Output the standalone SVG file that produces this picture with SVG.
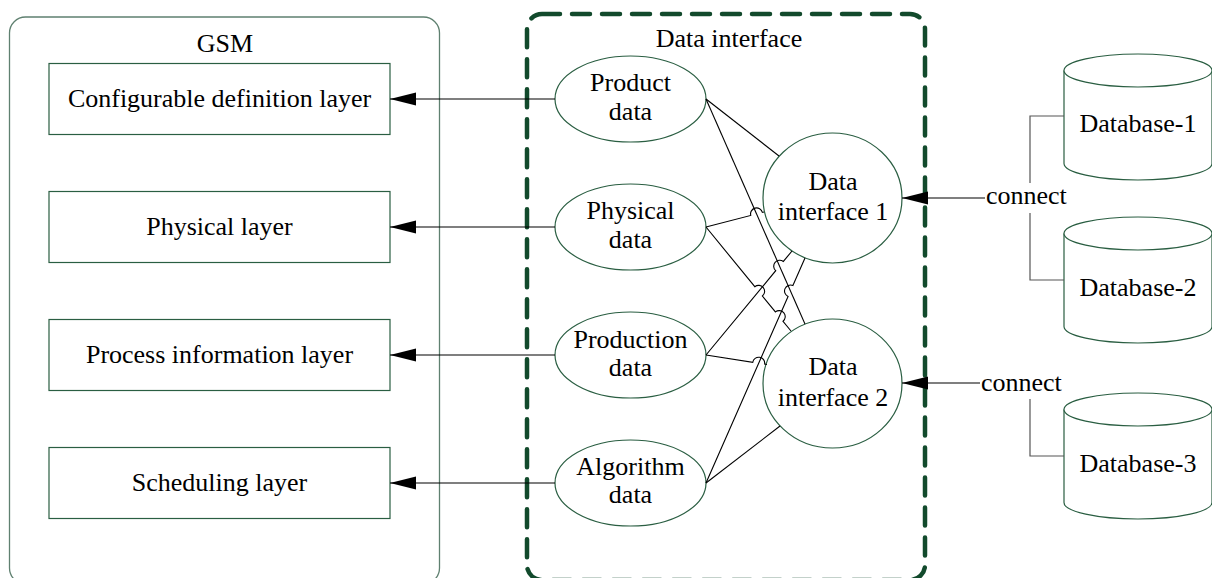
<svg xmlns="http://www.w3.org/2000/svg" width="1212" height="578" viewBox="0 0 1212 578">
<style>
  .t { font-family: "Liberation Serif", "Times New Roman", serif; font-size: 26px; fill: #000; }
  .c { text-anchor: middle; }
  .shape { fill: #fff; stroke: #2a5e42; stroke-width: 1.2; }
  .frame { fill: none; stroke: #5f8070; stroke-width: 1.3; }
  .dash { fill: none; stroke: #124a2c; stroke-width: 4.5; stroke-dasharray: 18 12; stroke-linecap: round; }
  .ln { fill: none; stroke: #000; stroke-width: 1.1; }
  .arr { fill: none; stroke: #000; stroke-width: 1.1; marker-end: url(#ah); }
  .br { fill: none; stroke: #555; stroke-width: 1.2; }
</style>
<defs>
  <marker id="ah" markerUnits="userSpaceOnUse" markerWidth="27" markerHeight="14" refX="26" refY="6.5" orient="auto">
    <path d="M0,0 L26,6.5 L0,13 Z" fill="#000"/>
  </marker>
</defs>
<rect width="1212" height="578" fill="#fff"/>

<g id="gsm">
  <rect class="frame" x="9.5" y="17" width="430" height="567" rx="16"/>
  <text class="t c" x="225" y="52">GSM</text>
</g>
<g id="layer-config">
  <rect class="shape" x="49" y="63.5" width="341" height="71"/>
  <text class="t c" x="219.5" y="107">Configurable definition layer</text>
</g>
<g id="layer-physical">
  <rect class="shape" x="49" y="191.5" width="341" height="71"/>
  <text class="t c" x="219.5" y="235">Physical layer</text>
</g>
<g id="layer-process">
  <rect class="shape" x="49" y="319.5" width="341" height="71"/>
  <text class="t c" x="219.5" y="363">Process information layer</text>
</g>
<g id="layer-scheduling">
  <rect class="shape" x="49" y="447.5" width="341" height="71"/>
  <text class="t c" x="219.5" y="491">Scheduling layer</text>
</g>

<g id="data-interface">
  <rect class="dash" x="527" y="14" width="398" height="566" rx="15"/>
  <text class="t c" x="729" y="47">Data interface</text>
</g>

<g id="product-data">
  <ellipse class="shape" cx="630.5" cy="99" rx="75.5" ry="43"/>
  <text class="t c" x="630.5" y="91">Product</text>
  <text class="t c" x="630.5" y="120">data</text>
</g>
<g id="physical-data">
  <ellipse class="shape" cx="630.5" cy="227" rx="75.5" ry="43"/>
  <text class="t c" x="630.5" y="219">Physical</text>
  <text class="t c" x="630.5" y="248">data</text>
</g>
<g id="production-data">
  <ellipse class="shape" cx="630.5" cy="355" rx="75.5" ry="43"/>
  <text class="t c" x="630.5" y="348">Production</text>
  <text class="t c" x="630.5" y="376">data</text>
</g>
<g id="algorithm-data">
  <ellipse class="shape" cx="630.5" cy="483" rx="75.5" ry="43"/>
  <text class="t c" x="630.5" y="475">Algorithm</text>
  <text class="t c" x="630.5" y="503">data</text>
</g>

<g id="data-interface-1">
  <ellipse class="shape" cx="832.5" cy="198" rx="69.5" ry="65"/>
  <text class="t c" x="833" y="190">Data</text>
  <text class="t c" x="833" y="220">interface 1</text>
</g>
<g id="data-interface-2">
  <ellipse class="shape" cx="832.5" cy="383.5" rx="69.5" ry="64.5"/>
  <text class="t c" x="833" y="375">Data</text>
  <text class="t c" x="833" y="406">interface 2</text>
</g>

<g id="database-1">
  <path class="shape" d="M1064,70.5 L1064,163.5 A74,16.5 0 0 0 1212,163.5 L1212,70.5"/>
  <ellipse class="shape" cx="1138" cy="70.5" rx="74" ry="16.5"/>
  <text class="t c" x="1138" y="132">Database-1</text>
</g>
<g id="database-2">
  <path class="shape" d="M1064,233.5 L1064,326.5 A74,16.5 0 0 0 1212,326.5 L1212,233.5"/>
  <ellipse class="shape" cx="1138" cy="233.5" rx="74" ry="16.5"/>
  <text class="t c" x="1138" y="296">Database-2</text>
</g>
<g id="database-3">
  <path class="shape" d="M1064,409.5 L1064,502.5 A74,16.5 0 0 0 1212,502.5 L1212,409.5"/>
  <ellipse class="shape" cx="1138" cy="409.5" rx="74" ry="16.5"/>
  <text class="t c" x="1138" y="472">Database-3</text>
</g>

<g id="connectors">
  <line class="arr" x1="555" y1="99" x2="390" y2="99"/>
  <line class="arr" x1="555" y1="227" x2="390" y2="227"/>
  <line class="arr" x1="555" y1="355" x2="390" y2="355"/>
  <line class="arr" x1="555" y1="483" x2="390" y2="483"/>

  <path class="ln" d="M706,99 L779,156"/>
  <path class="ln" d="M706,99 L805,324"/>
  <path class="ln" d="M706,227 L750.76,215.42 A6,6 0 0 1 762.38,212.42 L764,212"/>
  <path class="ln" d="M706,227 L754.81,286.72 A6,6 0 0 1 762.41,296.02 L775.42,311.94 A6,6 0 0 1 783.02,321.24 L791,331"/>
  <path class="ln" d="M706,355 L775.70,270.71 A6,6 0 0 1 783.34,261.47 L792,251"/>
  <path class="ln" d="M706,355 L752.78,362.29 A6,6 0 0 1 764.64,364.13 L767,364.5"/>
  <path class="ln" d="M706,483 L788.06,296.49 A6,6 0 0 1 792.90,285.51 L805,258"/>
  <path class="ln" d="M706,483 L780,426"/>

  <line class="arr" x1="985" y1="198" x2="902" y2="198"/>
  <text class="t" x="986" y="204">connect</text>
  <polyline class="br" points="1064,116 1030,116 1030,183"/>
  <polyline class="br" points="1030,213 1030,280 1064,280"/>

  <line class="arr" x1="980" y1="383" x2="902" y2="383"/>
  <text class="t" x="981" y="391">connect</text>
  <polyline class="br" points="1030,399 1030,456 1064,456"/>
</g>
</svg>
